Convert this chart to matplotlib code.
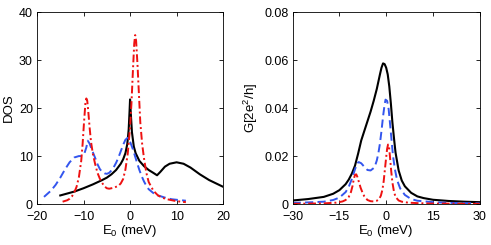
import matplotlib
matplotlib.use("Agg")
import matplotlib.pyplot as plt

plt.rcParams['font.family'] = ['Liberation Sans', 'DejaVu Sans']
plt.rcParams['mathtext.fontset'] = 'custom'
plt.rcParams['mathtext.rm'] = 'Liberation Sans'
plt.rcParams['mathtext.it'] = 'Liberation Sans'

# Left panel: DOS
dos_black_x = [-15, -12, -10, -8, -6, -5, -4, -3, -2, -1.5, -1, -0.6, -0.3, -0.1, 0, 0.15, 0.4, 0.8, 1.2, 2, 3, 4, 5, 5.8, 6.5, 7.5, 8.5, 10, 11.5, 13, 15, 17, 20]
dos_black_y = [1.8, 2.6, 3.3, 4.1, 5.0, 5.5, 6.2, 7.1, 8.4, 9.3, 10.6, 12.5, 15.5, 19.5, 21.8, 19.0, 15.0, 12.0, 10.6, 9.0, 7.9, 7.1, 6.5, 6.0, 6.7, 7.8, 8.4, 8.7, 8.4, 7.6, 6.2, 5.0, 3.6]

dos_blue_x = [-18.5, -17, -16, -15, -14, -13, -12, -11, -10.3, -9.8, -9.4, -9.1, -8.7, -8.2, -7.5, -7, -6.5, -6, -5.5, -5, -4.5, -4, -3.5, -3, -2.5, -2, -1.5, -1, -0.5, 0, 0.5, 1, 1.5, 2, 2.5, 3, 3.5, 4, 5, 6, 7, 8, 9, 10, 12]
dos_blue_y = [1.5, 2.8, 4.0, 5.5, 7.2, 8.7, 9.7, 10.0, 10.0, 10.6, 11.8, 13.2, 12.6, 11.3, 9.6, 8.3, 7.3, 6.7, 6.4, 6.3, 6.5, 7.0, 7.7, 8.6, 9.7, 11.0, 12.3, 13.4, 13.8, 13.0, 11.7, 10.2, 8.6, 7.1, 5.8, 4.7, 3.8, 3.1, 2.3, 1.8, 1.5, 1.2, 1.0, 0.9, 0.7]

dos_red_x = [-14.5, -13.5, -13, -12.5, -12, -11.5, -11, -10.5, -10.2, -9.9, -9.6, -9.4, -9.2, -9.0, -8.7, -8.4, -8, -7.5, -7, -6.5, -6, -5.5, -5, -4.5, -4, -3.5, -3, -2.5, -2, -1.5, -1, -0.5, 0, 0.3, 0.6, 0.9, 1.1, 1.3, 1.6, 1.9, 2.2, 2.6, 3, 3.5, 4, 5, 6, 7, 8, 10, 12]
dos_red_y = [0.5, 0.8, 1.1, 1.6, 2.4, 3.6, 5.6, 9.0, 12.5, 17.0, 21.0, 22.0, 21.5, 19.5, 16.0, 13.0, 10.5, 8.3, 6.5, 5.3, 4.4, 3.7, 3.3, 3.2, 3.3, 3.4, 3.6, 3.8, 4.3, 5.2, 7.2, 10.5, 16.0, 21.0, 27.5, 33.5, 35.2, 34.0, 29.0, 23.0, 17.0, 12.5, 9.5, 6.5, 4.6, 2.8, 1.8, 1.3, 1.0, 0.6, 0.4]

# Right panel: conductance G
g_black_x = [-30, -25, -20, -17, -15, -13, -12, -11, -10, -9, -8, -7, -6, -5, -4, -3, -2.5, -2, -1.5, -1, -0.5, 0, 0.5, 1, 1.5, 2, 2.5, 3, 4, 5, 6, 8, 10, 12, 15, 20, 25, 30]
g_black_y = [0.0015, 0.0021, 0.003, 0.0043, 0.0058, 0.0083, 0.0102, 0.0127, 0.0160, 0.0210, 0.0265, 0.0305, 0.0345, 0.0385, 0.0430, 0.0480, 0.0510, 0.0540, 0.0568, 0.0586, 0.0583, 0.0568, 0.0540, 0.0490, 0.0420, 0.0340, 0.0275, 0.0215, 0.0140, 0.0098, 0.0074, 0.0047, 0.0032, 0.0025, 0.0018, 0.0013, 0.0010, 0.0008]

g_blue_x = [-30, -25, -20, -17, -15, -13, -12, -11, -10, -9.3, -8.8, -8, -7, -6, -5, -4, -3.5, -3, -2.5, -2, -1.5, -1, -0.5, -0.2, 0.3, 0.8, 1.2, 1.7, 2.2, 2.8, 3.5, 4.5, 6, 8, 10, 15, 20, 25, 30]
g_blue_y = [0.0005, 0.0007, 0.001, 0.0017, 0.0027, 0.0050, 0.0072, 0.0105, 0.0145, 0.0170, 0.0175, 0.0170, 0.0155, 0.0142, 0.0140, 0.0150, 0.0162, 0.0182, 0.0212, 0.0252, 0.0305, 0.0365, 0.0415, 0.0435, 0.0430, 0.0395, 0.0340, 0.0270, 0.0200, 0.0145, 0.0100, 0.0065, 0.0038, 0.0021, 0.0014, 0.0008, 0.0005, 0.0004, 0.0003]

g_red_x = [-30, -25, -20, -16, -14, -13, -12, -11.3, -10.8, -10.4, -10.0, -9.6, -9.2, -8.7, -8.2, -7.5, -7, -6, -5, -4, -3, -2.3, -1.7, -1.2, -0.8, -0.4, 0, 0.3, 0.6, 0.9, 1.2, 1.6, 2, 2.5, 3, 4, 5, 7, 10, 15, 20, 25, 30]
g_red_y = [0.0001, 0.0002, 0.0003, 0.0006, 0.0011, 0.0017, 0.0030, 0.0050, 0.0075, 0.0103, 0.0122, 0.0124, 0.0112, 0.0090, 0.0068, 0.0045, 0.0032, 0.0017, 0.0012, 0.0011, 0.0014, 0.0020, 0.0035, 0.0060, 0.0095, 0.0145, 0.0195, 0.0230, 0.0248, 0.0240, 0.0200, 0.0140, 0.0090, 0.0052, 0.0030, 0.0015, 0.0010, 0.0006, 0.0004, 0.0002, 0.0002, 0.0001, 0.0001]

xticks_left = [-20, -10, 0, 10, 20]
xticklabels_left = ['\u221220', '\u221210', '0', '10', '20']
yticks_left = [0, 10, 20, 30, 40]
xticks_right = [-30, -15, 0, 15, 30]
xticklabels_right = ['\u221230', '\u221215', '0', '15', '30']
yticks_right = [0, 0.02, 0.04, 0.06, 0.08]
yticklabels_right = ['0', '0.02', '0.04', '0.06', '0.08']

fig = plt.figure(figsize=(4.91, 2.45), dpi=100)
ax1 = fig.add_axes([0.0754, 0.167, 0.379, 0.784])
ax2 = fig.add_axes([0.596, 0.167, 0.381, 0.784])

lw = 1.4
blue_ls = (0, (4.2, 2.2))
red_ls = (0, (4, 1.5, 1, 1.5))

ax1.plot(dos_black_x, dos_black_y, color='black', lw=lw + 0.1, ls='-')
ax1.plot(dos_blue_x, dos_blue_y, color='#3355ee', lw=lw, ls=blue_ls)
ax1.plot(dos_red_x, dos_red_y, color='#ee1111', lw=lw, ls=red_ls)
ax1.set_xlim(-20, 20)
ax1.set_ylim(0, 40)
ax1.set_xticks(xticks_left)
ax1.set_xticklabels(xticklabels_left)
ax1.set_yticks(yticks_left)
ax1.set_ylabel('DOS', fontsize=9.5, labelpad=3)
ax1.set_xlabel('E$_0$ (meV)', fontsize=9.5, labelpad=0)

ax2.plot(g_black_x, g_black_y, color='black', lw=lw + 0.1, ls='-')
ax2.plot(g_blue_x, g_blue_y, color='#3355ee', lw=lw, ls=blue_ls)
ax2.plot(g_red_x, g_red_y, color='#ee1111', lw=lw, ls=red_ls)
ax2.set_xlim(-30, 30)
ax2.set_ylim(0, 0.08)
ax2.set_xticks(xticks_right)
ax2.set_xticklabels(xticklabels_right)
ax2.set_yticks(yticks_right)
ax2.set_yticklabels(yticklabels_right)
ax2.set_ylabel('G[2e$^2$/h]', fontsize=9.5, labelpad=3)
ax2.set_xlabel('E$_0$ (meV)', fontsize=9.5, labelpad=0)

for ax in (ax1, ax2):
    ax.tick_params(direction='in', length=3, width=0.6, labelsize=9, top=True, right=True)
    ax.tick_params(axis='x', labeltop=False, pad=5)
    ax.tick_params(axis='y', labelright=False, pad=3)
    for s in ax.spines.values():
        s.set_linewidth(0.6)

fig.savefig('out.png', dpi=100)
